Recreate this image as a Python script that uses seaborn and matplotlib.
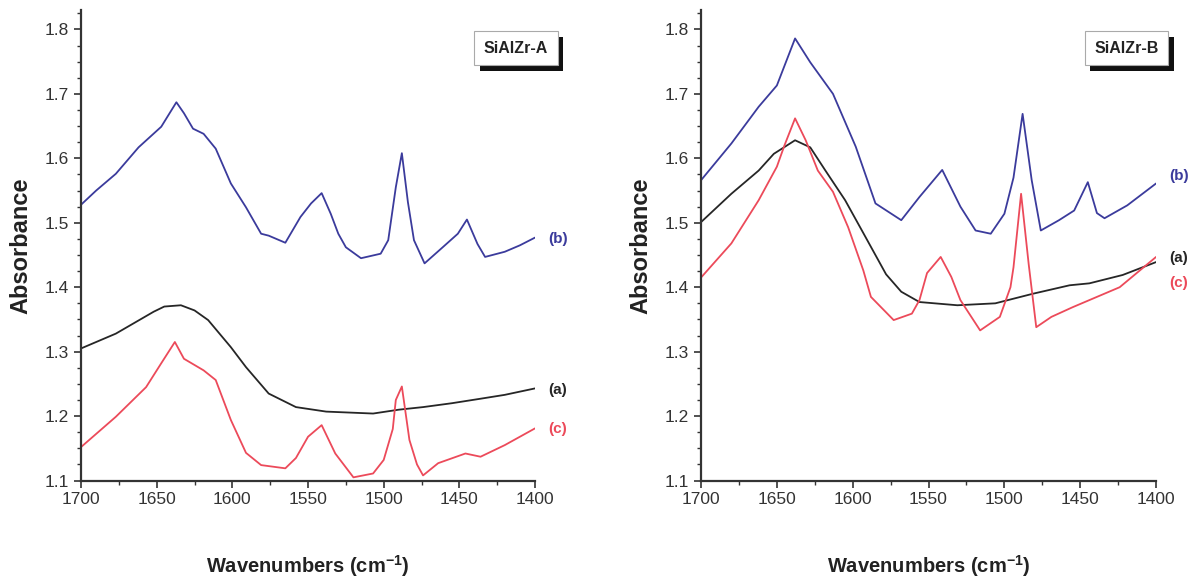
import numpy as np
import pandas as pd
import matplotlib
matplotlib.use("Agg")
import matplotlib.pyplot as plt
import matplotlib.transforms as mtransforms
import matplotlib.patheffects as pe
from matplotlib.ticker import MultipleLocator
import seaborn as sns

# ---------------- data ----------------
# Panel A : SiAlZr-A
a_wn_b = [1700, 1690, 1677, 1662, 1647, 1642, 1637, 1632, 1626, 1619, 1611, 1601, 1591, 1581, 1576,
          1565, 1555, 1548, 1541, 1535, 1530, 1525, 1515, 1502, 1497, 1492, 1488, 1484, 1480, 1473,
          1461, 1451, 1445, 1438, 1433, 1420, 1410, 1400]
a_ab_b = [1.528, 1.550, 1.576, 1.617, 1.649, 1.668, 1.687, 1.670, 1.646, 1.638, 1.615, 1.561, 1.524, 1.483, 1.480,
          1.469, 1.509, 1.530, 1.546, 1.514, 1.483, 1.462, 1.445, 1.452, 1.473, 1.555, 1.608, 1.532, 1.473, 1.437,
          1.462, 1.483, 1.505, 1.467, 1.447, 1.455, 1.465, 1.477]

a_wn_a = [1700, 1677, 1652, 1645, 1634, 1625, 1616, 1601, 1591, 1576, 1558, 1538, 1507, 1490, 1474,
          1455, 1436, 1420, 1400]
a_ab_a = [1.305, 1.328, 1.362, 1.370, 1.372, 1.364, 1.349, 1.307, 1.276, 1.235, 1.214, 1.207, 1.204, 1.210, 1.214,
          1.220, 1.227, 1.233, 1.243]

a_wn_c = [1700, 1677, 1657, 1647, 1638, 1632, 1619, 1611, 1601, 1591, 1581, 1565, 1558, 1550, 1541,
          1532, 1520, 1507, 1500, 1494, 1492, 1488, 1483, 1478, 1474, 1464, 1446, 1436, 1420, 1400]
a_ab_c = [1.152, 1.199, 1.245, 1.282, 1.315, 1.289, 1.271, 1.256, 1.194, 1.143, 1.124, 1.119, 1.135, 1.168, 1.186,
          1.142, 1.105, 1.111, 1.132, 1.180, 1.225, 1.246, 1.163, 1.125, 1.108, 1.127, 1.142, 1.137, 1.155, 1.181]

# Panel B : SiAlZr-B
b_wn_b = [1700, 1680, 1662, 1650, 1638, 1628, 1613, 1598, 1585, 1568, 1556, 1541, 1529, 1519, 1509,
          1500, 1494, 1488, 1482, 1476, 1464, 1454, 1445, 1439, 1434, 1419, 1400]
b_ab_b = [1.566, 1.623, 1.680, 1.713, 1.786, 1.749, 1.700, 1.618, 1.530, 1.504, 1.540, 1.582, 1.525, 1.488, 1.483,
          1.514, 1.570, 1.669, 1.566, 1.488, 1.504, 1.519, 1.563, 1.515, 1.507, 1.527, 1.561]

b_wn_a = [1700, 1680, 1662, 1652, 1638, 1628, 1618, 1605, 1593, 1578, 1568, 1556, 1531, 1506, 1481,
          1457, 1444, 1422, 1400]
b_ab_a = [1.501, 1.545, 1.581, 1.607, 1.628, 1.617, 1.581, 1.535, 1.484, 1.420, 1.393, 1.377, 1.372, 1.375, 1.390,
          1.403, 1.406, 1.419, 1.439]

b_wn_c = [1700, 1680, 1662, 1650, 1645, 1638, 1631, 1623, 1613, 1603, 1593, 1588, 1573, 1561, 1556,
          1551, 1542, 1535, 1529, 1516, 1503, 1496, 1494, 1489, 1484, 1479, 1469, 1455, 1424, 1400]
b_ab_c = [1.415, 1.468, 1.535, 1.587, 1.620, 1.662, 1.628, 1.581, 1.548, 1.493, 1.426, 1.385, 1.349, 1.359, 1.380,
          1.422, 1.447, 1.416, 1.380, 1.333, 1.354, 1.400, 1.431, 1.545, 1.436, 1.338, 1.354, 1.369, 1.400, 1.447]

panel_titles = ["SiAlZr-A", "SiAlZr-B"]
x_ticks = [1700, 1650, 1600, 1550, 1500, 1450, 1400]
y_ticks = [1.1, 1.2, 1.3, 1.4, 1.5, 1.6, 1.7, 1.8]
curve_labels = ["(a)", "(b)", "(c)"]

# ---------------- style ----------------
sns.set_style("ticks")
plt.rcParams['font.family'] = ['Liberation Sans', 'DejaVu Sans']

BLUE = "#3b3b9c"
BLACK = "#262626"
RED = "#ec4a5a"

fig = plt.figure(figsize=(11.9, 5.79), dpi=100)
axA = fig.add_axes([0.0681, 0.170, 0.3815, 0.8126])
axB = fig.add_axes([0.5891, 0.170, 0.3824, 0.8126])

panels = [
    (axA, (a_wn_a, a_ab_a), (a_wn_b, a_ab_b), (a_wn_c, a_ab_c)),
    (axB, (b_wn_a, b_ab_a), (b_wn_b, b_ab_b), (b_wn_c, b_ab_c)),
]

label_pos = {
    0: {"(b)": 1.475, "(a)": 1.240, "(c)": 1.180},
    1: {"(b)": 1.572, "(a)": 1.446, "(c)": 1.406},
}
box_x = [0.958, 0.935]

for i, (ax, ca, cb, cc) in enumerate(panels):
    for (wn, ab), col in ((cb, BLUE), (ca, BLACK), (cc, RED)):
        df = pd.DataFrame({"wn": wn, "ab": ab})
        sns.lineplot(data=df, x="wn", y="ab", ax=ax, color=col, linewidth=1.3, sort=False)
    ax.set_xlim(1700, 1400)
    ax.set_ylim(1.1, 1.83)
    ax.set_xticks(x_ticks)
    ax.set_yticks(y_ticks)
    ax.xaxis.set_minor_locator(MultipleLocator(25))
    ax.yaxis.set_minor_locator(MultipleLocator(0.025))
    ax.tick_params(axis='both', which='major', direction='out', length=5, width=1.2,
                   labelsize=12.5, colors='#333333', labelcolor='#333333')
    ax.tick_params(axis='both', which='minor', direction='out', length=3, width=1.0, colors='#333333')
    for s in ["top", "right"]:
        ax.spines[s].set_visible(False)
    for s in ["left", "bottom"]:
        ax.spines[s].set_linewidth(1.6)
        ax.spines[s].set_color('#333333')
    ax.set_xlabel("Wavenumbers (cm$^{\\mathregular{-1}}$)", fontsize=14.5, fontweight='bold',
                  labelpad=33, color='#222222')
    ax.set_ylabel("Absorbance", fontsize=17, fontweight='bold', labelpad=9, color='#222222')

    # curve labels outside the axes on the right
    colors = {"(a)": BLACK, "(b)": BLUE, "(c)": RED}
    trans = mtransforms.blended_transform_factory(ax.transAxes, ax.transData)
    for lab in curve_labels:
        ax.text(1.05, label_pos[i][lab], lab, transform=trans, ha='center', va='center',
                fontsize=11, fontweight='bold', color=colors[lab], clip_on=False)

    # title box with drop shadow
    t = ax.text(box_x[i], 0.919, panel_titles[i], transform=ax.transAxes, ha='center', va='center',
                fontsize=11.5, fontweight='bold', color='#222222', clip_on=False,
                bbox=dict(boxstyle='square,pad=0.6', facecolor='white', edgecolor='#aaaaaa', linewidth=0.8))
    t.get_bbox_patch().set_path_effects([
        pe.SimplePatchShadow(offset=(4, -4), shadow_rgbFace='#111111', alpha=1.0),
        pe.Normal()])

fig.savefig("out.png", dpi=100)
